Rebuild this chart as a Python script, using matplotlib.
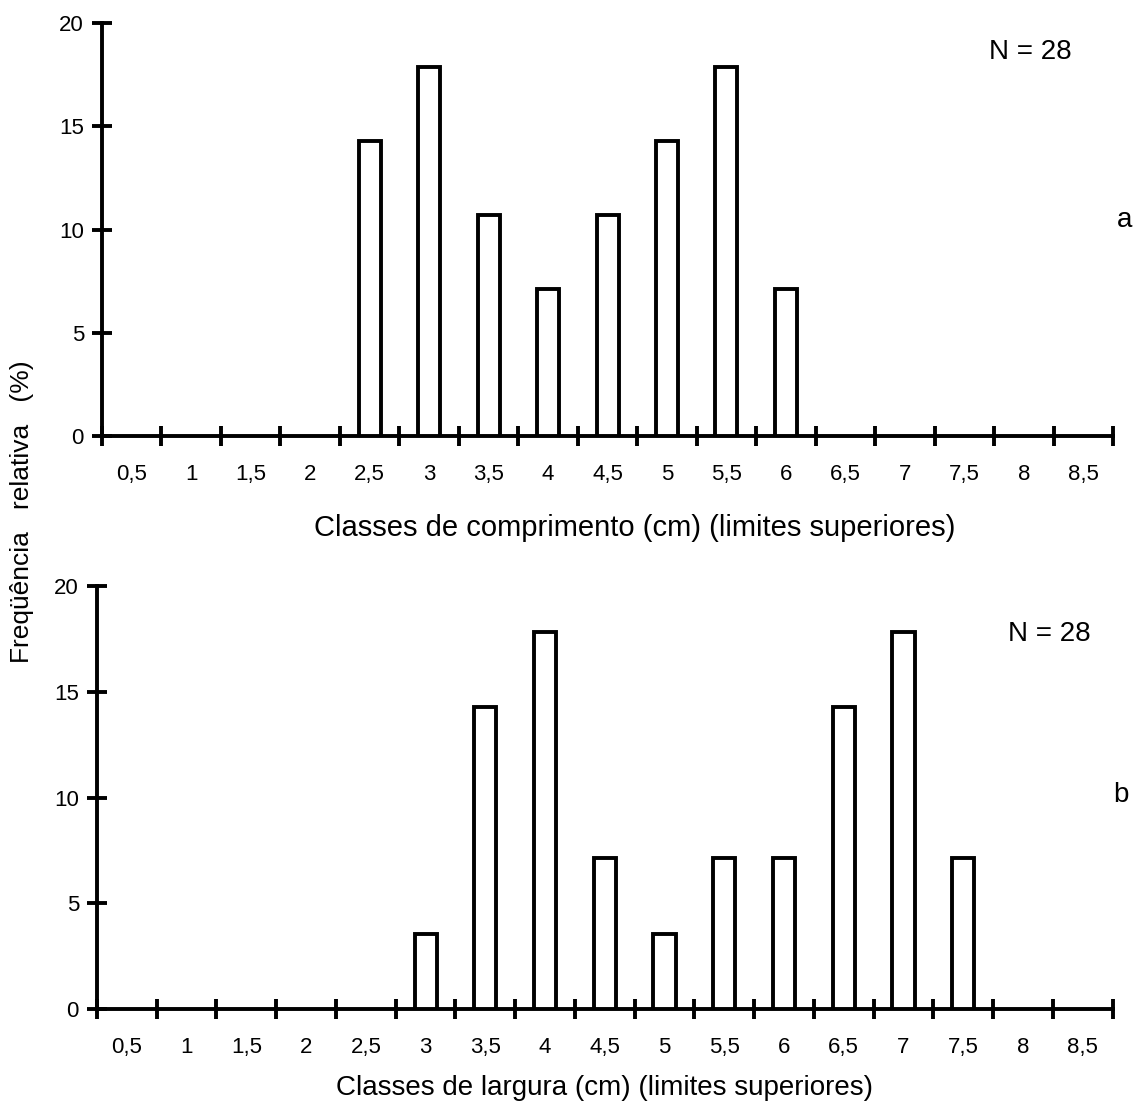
import numpy as np
import matplotlib.pyplot as plt

plt.rcParams['font.family'] = ['Liberation Sans', 'DejaVu Sans']

# classes (limites superiores)
classes = ['0,5', '1', '1,5', '2', '2,5', '3', '3,5', '4', '4,5',
           '5', '5,5', '6', '6,5', '7', '7,5', '8', '8,5']

# frequencia relativa (%) - N = 28
comprimento = [0, 0, 0, 0, 14.29, 17.86, 10.71, 7.14, 10.71,
               14.29, 17.86, 7.14, 0, 0, 0, 0, 0]
largura = [0, 0, 0, 0, 0, 3.57, 14.29, 17.86, 7.14,
           3.57, 7.14, 7.14, 14.29, 17.86, 7.14, 0, 0]

fig = plt.figure(figsize=(11.36, 11.12), dpi=100)
ax1 = fig.add_axes([0.0898, 0.608, 0.890, 0.371])
ax2 = fig.add_axes([0.0854, 0.0926, 0.894, 0.380])

lw = 2.8


def draw(ax, vals):
    x = np.arange(len(classes)) + 0.5
    nz = [v > 0 for v in vals]
    ax.bar(x[nz], np.array(vals)[nz], width=0.37, facecolor='white',
           edgecolor='black', linewidth=lw, zorder=3)
    ax.set_xlim(0, len(classes))
    ax.set_ylim(0, 20)
    for s in ['top', 'right']:
        ax.spines[s].set_visible(False)
    for s in ['left', 'bottom']:
        ax.spines[s].set_linewidth(lw)
    ax.set_xticks(x)
    ax.set_xticklabels(classes, fontsize=16)
    ax.set_xticks(np.arange(0, len(classes) + 1), minor=True)
    ax.tick_params(axis='x', which='major', length=0, pad=20)
    ax.tick_params(axis='x', which='minor', direction='inout', length=14, width=lw)
    ax.set_yticks([0, 5, 10, 15, 20])
    ax.tick_params(axis='y', direction='inout', length=14, width=lw, labelsize=16, pad=6)


draw(ax1, comprimento)
draw(ax2, largura)

fig.text(0.559, 1 - 528 / 1112, 'Classes de comprimento (cm) (limites superiores)',
         fontsize=21, ha='center', va='center')
fig.text(0.532, 1 - 1088 / 1112, 'Classes de largura (cm) (limites superiores)',
         fontsize=20, ha='center', va='center')

fig.text(1030 / 1136, 1 - 52 / 1112, 'N = 28', fontsize=20, ha='center', va='center')
fig.text(1049 / 1136, 1 - 634 / 1112, 'N = 28', fontsize=20, ha='center', va='center')
fig.text(1125 / 1136, 1 - 220 / 1112, 'a', fontsize=20, ha='center', va='center')
fig.text(1121 / 1136, 1 - 795 / 1112, 'b', fontsize=20, ha='center', va='center')

fig.text(0.019, 0.540, 'Freqüência   relativa   (%)', rotation=90, fontsize=19,
         ha='center', va='center')

fig.savefig('out.png')
